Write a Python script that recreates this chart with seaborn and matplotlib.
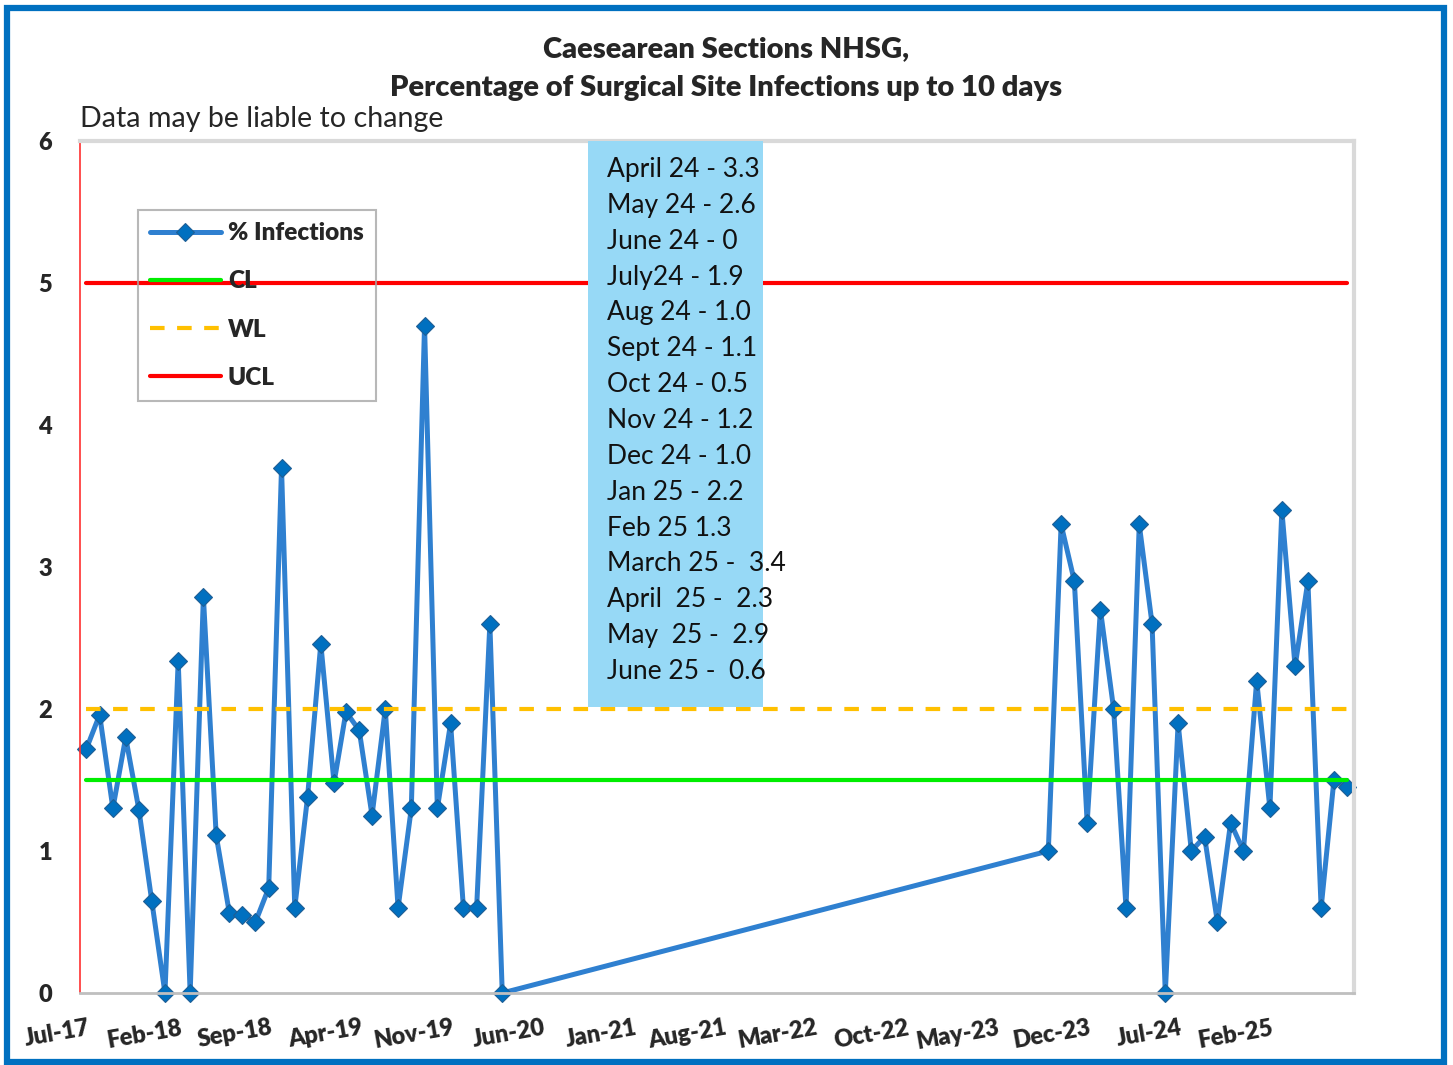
import matplotlib
matplotlib.use("Agg")
import matplotlib.pyplot as plt
import matplotlib.transforms as mtransforms
from matplotlib.patches import Rectangle
import pandas as pd
import seaborn as sns

# % infections, first run of months (Jul-17 onwards)
start_a = "2017-07-01"
infections_a = [1.72, 1.96, 1.30, 1.80, 1.29, 0.65, 0.0, 2.34, 0.0, 2.79,
                1.11, 0.56, 0.55, 0.50, 0.74, 3.70, 0.60, 1.38, 2.46, 1.48,
                1.98, 1.85, 1.25, 2.00, 0.60, 1.30, 4.70, 1.30, 1.90, 0.60,
                0.60, 2.60, 0.0]
# second run of months (Sep-23 onwards)
start_b = "2023-09-01"
infections_b = [1.0, 3.3, 2.9, 1.2, 2.7, 2.0, 0.6, 3.3, 2.6, 0.0, 1.9, 1.0,
                1.1, 0.5, 1.2, 1.0, 2.2, 1.3, 3.4, 2.3, 2.9, 0.6, 1.5, 1.45]

# control limits, constant over Jul-17 .. Aug-25
limit_start, limit_end = "2017-07-01", "2025-08-01"
cl, wl, ucl = 1.5, 2.0, 5.0

note_lines = ["April 24 - 3.3", "May 24 - 2.6", "June 24 - 0", "July24 - 1.9",
              "Aug 24 - 1.0", "Sept 24 - 1.1", "Oct 24 - 0.5", "Nov 24 - 1.2",
              "Dec 24 - 1.0", "Jan 25 - 2.2", "Feb 25 1.3", "March 25 -  3.4",
              "April  25 -  2.3", "May  25 -  2.9", "June 25 -  0.6"]

mid = pd.Timedelta(days=15)
data = pd.DataFrame({
    "date": list(pd.date_range(start_a, periods=len(infections_a), freq="MS") + mid)
    + list(pd.date_range(start_b, periods=len(infections_b), freq="MS") + mid),
    "value": infections_a + infections_b,
})
limit_dates = pd.date_range(limit_start, limit_end, freq="MS") + mid
limits = pd.DataFrame({"date": limit_dates, "CL": cl, "WL": wl, "UCL": ucl})

sns.set_style("white")
plt.rcParams["font.family"] = ["Lato", "DejaVu Sans"]

W, H = 1453, 1065
fig, ax = plt.subplots(figsize=(W / 100, H / 100), dpi=100)
fig.subplots_adjust(left=80 / W, right=1354 / W, top=1 - 141 / H, bottom=1 - 993 / H)

sns.lineplot(data=data, x="date", y="value", ax=ax, color="#2F80D0", lw=3.6,
             marker="D", markersize=9, markerfacecolor="#0070C0",
             markeredgecolor="#1F5F95", markeredgewidth=0.8, clip_on=False,
             errorbar=None, label="% Infections")
sns.lineplot(data=limits, x="date", y="CL", ax=ax, color="#00EE00", lw=3,
             errorbar=None, label="CL")
sns.lineplot(data=limits, x="date", y="WL", ax=ax, color="#FFC000", lw=3,
             linestyle=(0, (3.5, 3)), errorbar=None, label="WL")
sns.lineplot(data=limits, x="date", y="UCL", ax=ax, color="#FF0000", lw=3,
             errorbar=None, label="UCL")

ax.set_ylim(0, 6)
ax.set_yticks(range(0, 7))
ax.set_yticklabels([str(v) for v in range(0, 7)], fontweight="heavy", fontsize=17)
ax.set_xlim(pd.Timestamp("2017-07-01"), pd.Timestamp("2025-09-01"))
ticks = pd.date_range("2017-07-01", "2025-09-01", freq="7MS")
ax.set_xticks(ticks)
ax.set_xticklabels([t.strftime("%b-%y") for t in ticks[:-1]] + [""],
                   fontweight="heavy", fontsize=17, rotation=10, ha="right",
                   va="top", rotation_mode="anchor")
ax.set_xlabel("")
ax.set_ylabel("")

for side in ["top", "right"]:
    ax.spines[side].set_color("#D9D9D9")
    ax.spines[side].set_linewidth(3)
ax.spines["bottom"].set_color("#BFBFBF")
ax.spines["bottom"].set_linewidth(2)
ax.spines["left"].set_color("#FF3030")
ax.spines["left"].set_linewidth(1.2)

ax.tick_params(axis="y", direction="out", length=6, width=1, color="#FF3030", pad=14)
ax.tick_params(axis="x", direction="out", length=7, width=1.2, color="#A6A6A6", pad=10)
offset = mtransforms.ScaledTranslation(0.08, 0, fig.dpi_scale_trans)
for lab in ax.get_xticklabels():
    lab.set_transform(lab.get_transform() + offset)

leg = ax.legend(loc="upper left", bbox_to_anchor=(138 / W, 1 - 210 / H),
                bbox_transform=fig.transFigure, borderaxespad=0,
                prop={"weight": "heavy", "size": 17.5}, handlelength=2.9,
                handletextpad=0.3, labelspacing=1.08, borderpad=0.5,
                frameon=True, fancybox=False, facecolor="none",
                edgecolor="#A6A6A6", numpoints=1)
leg.get_frame().set_linewidth(1.5)

# note box
box = Rectangle(((588 - 80) / 1274, (993 - 707) / 852), (763 - 588) / 1274,
                1 - (993 - 707) / 852, transform=ax.transAxes,
                facecolor="#97D9F6", edgecolor="none", zorder=10, clip_on=False)
ax.add_patch(box)
for i, line in enumerate(note_lines):
    yb = 177 + i * 35.85
    ax.text((607 - 80) / 1274, (993 - yb) / 852, line, transform=ax.transAxes,
            fontsize=19, va="baseline", ha="left", zorder=11, color="#111111")

fig.text(726 / W, 1 - 49 / H, "Caesearean Sections NHSG,", ha="center",
         va="center", fontsize=21, fontweight="heavy")
fig.text(726 / W, 1 - 88 / H, "Percentage of Surgical Site Infections up to 10 days",
         ha="center", va="center", fontsize=21, fontweight="heavy")
fig.text(80 / W, 1 - 127 / H, "Data may be liable to change", ha="left",
         va="baseline", fontsize=20.6)

fig.patches.append(Rectangle((7 / W, 1 - 1062 / H), (1443.5 - 7) / W, (1062 - 8) / H,
                             transform=fig.transFigure, fill=False,
                             edgecolor="#0070C0", lw=4.5))

fig.savefig("out.png", dpi=100)
